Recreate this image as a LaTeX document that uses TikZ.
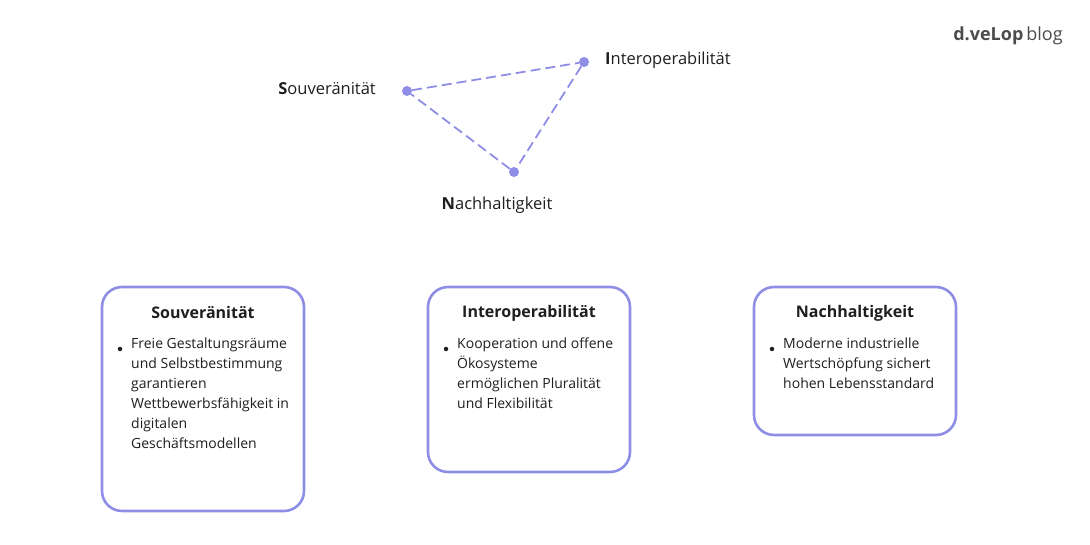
\documentclass[tikz,border=0pt]{standalone}
\usepackage{fontspec}
\setmainfont{Open Sans}
\usetikzlibrary{positioning}
\definecolor{lila}{RGB}{142,142,230}
\definecolor{txt}{RGB}{30,30,30}
\tikzset{
  card/.style={draw=lila, line width=2.6pt, rounded corners=20pt},
  vertex/.style={circle, fill=lila, inner sep=0pt, minimum size=10pt},
  edge/.style={draw=lila, line width=1.8pt, dash pattern=on 10pt off 5pt},
  corner/.style={font=\fontsize{16.5}{20}\selectfont, text=txt, inner sep=0pt},
  title/.style={font=\bfseries\fontsize{16}{20}\selectfont, text=txt, inner sep=0pt},
  body/.style={font=\fontsize{14}{20}\selectfont, text=txt, align=left, anchor=north west, inner sep=0pt},
  dot/.style={circle, fill=txt, inner sep=0pt, minimum size=4.5pt}
}
\begin{document}
\begin{tikzpicture}[x=1pt, y=-1pt]
\useasboundingbox (0,0) rectangle (1090,545);

% logo
\node[font=\fontsize{18}{22}\selectfont, text=black!70, inner sep=0pt] (logo) at (1008,36) {\textbf{d.veLop}\,blog};

% triangle
\node[vertex] (vs) at (407,91) {};
\node[vertex] (vi) at (584,62) {};
\node[vertex] (vn) at (514,172) {};
\draw[edge] (vs) -- (vi) -- (vn) -- (vs);
\node[corner, anchor=east] (ls) at (376,89) {\textbf{S}ouveränität};
\node[corner, anchor=west] (li) at (605,60) {\textbf{I}nteroperabilität};
\node[corner] (ln) at (497,205) {\textbf{N}achhaltigkeit};

% Souveränität card
\draw[card] (102,287) rectangle (304,511);
\node[title] (t1) at (203,313) {Souveränität};
\node[dot] (d1) at (120,349) {};
\node[body] (b1) at (131,338) {Freie Gestaltungsräume\\und Selbstbestimmung\\garantieren\\Wettbewerbsfähigkeit in\\digitalen\\Geschäftsmodellen};

% Interoperabilität card
\draw[card] (428,287) rectangle (630,472);
\node[title] (t2) at (529,313) {Interoperabilität};
\node[dot] (d2) at (446,349) {};
\node[body] (b2) at (457,338) {Kooperation und offene\\Ökosysteme\\ermöglichen Pluralität\\und Flexibilität};

% Nachhaltigkeit card
\draw[card] (754,287) rectangle (956,435);
\node[title] (t3) at (855,313) {Nachhaltigkeit};
\node[dot] (d3) at (772,349) {};
\node[body] (b3) at (783,338) {Moderne industrielle\\Wertschöpfung sichert\\hohen Lebensstandard};
\end{tikzpicture}
\end{document}
